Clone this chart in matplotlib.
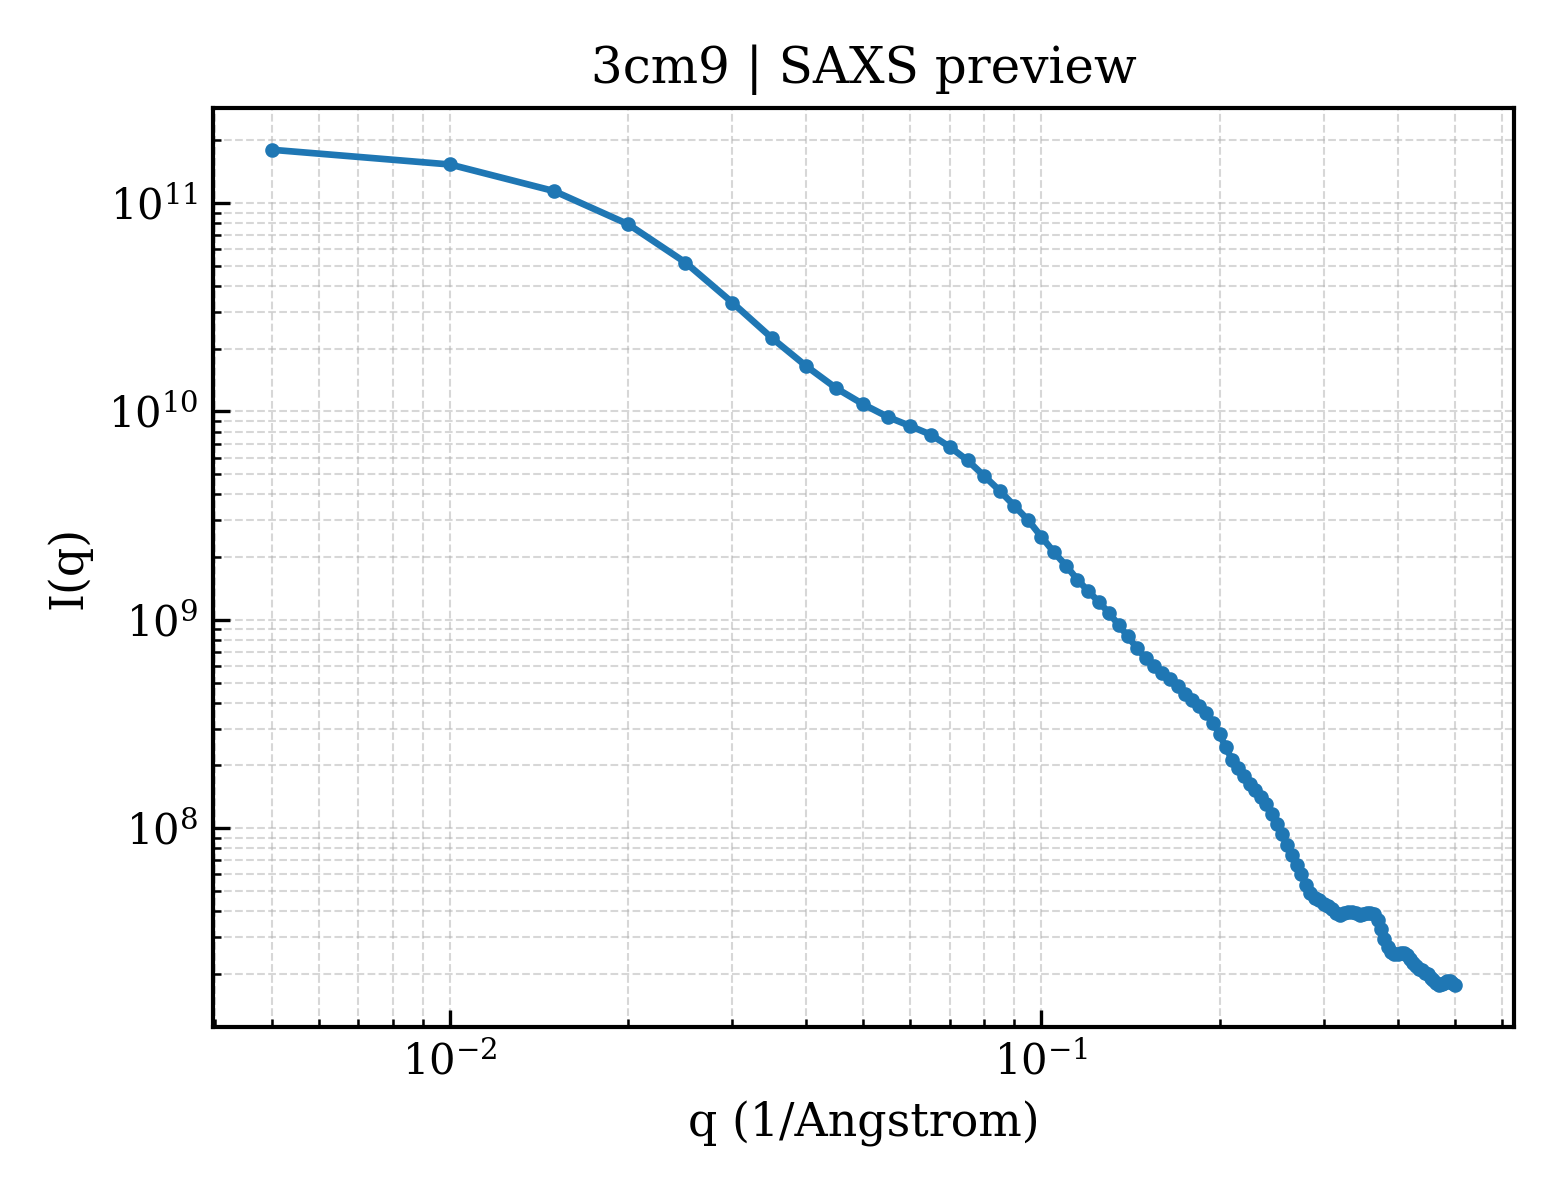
import matplotlib
matplotlib.use("Agg")
import matplotlib.pyplot as plt

# q grid (1/Angstrom)
q = [0.005, 0.010, 0.015, 0.020, 0.025, 0.030, 0.035, 0.040, 0.045, 0.050,
     0.055, 0.060, 0.065, 0.070, 0.075, 0.080, 0.085, 0.090, 0.095, 0.100,
     0.105, 0.110, 0.115, 0.120, 0.125, 0.130, 0.135, 0.140, 0.145, 0.150,
     0.155, 0.160, 0.165, 0.170, 0.175, 0.180, 0.185, 0.190, 0.195, 0.200,
     0.205, 0.210, 0.215, 0.220, 0.225, 0.230, 0.235, 0.240, 0.245, 0.250,
     0.255, 0.260, 0.265, 0.270, 0.275, 0.280, 0.285, 0.290, 0.295, 0.300,
     0.305, 0.310, 0.315, 0.320, 0.325, 0.330, 0.335, 0.340, 0.345, 0.350,
     0.355, 0.360, 0.365, 0.370, 0.375, 0.380, 0.385, 0.390, 0.395, 0.400,
     0.405, 0.410, 0.415, 0.420, 0.425, 0.430, 0.435, 0.440, 0.445, 0.450,
     0.455, 0.460, 0.465, 0.470, 0.475, 0.480, 0.485, 0.490, 0.495, 0.500]

# intensity
intensity = [1.80e11, 1.53e11, 1.14e11, 7.91e10, 5.18e10, 3.33e10, 2.25e10, 1.65e10, 1.29e10, 1.08e10,
             9.40e9, 8.50e9, 7.73e9, 6.75e9, 5.82e9, 4.90e9, 4.16e9, 3.52e9, 3.00e9, 2.50e9,
             2.11e9, 1.82e9, 1.56e9, 1.37e9, 1.22e9, 1.08e9, 9.46e8, 8.32e8, 7.31e8, 6.55e8,
             6.00e8, 5.57e8, 5.21e8, 4.81e8, 4.42e8, 4.10e8, 3.86e8, 3.56e8, 3.20e8, 2.83e8,
             2.44e8, 2.13e8, 1.95e8, 1.78e8, 1.63e8, 1.52e8, 1.41e8, 1.30e8, 1.17e8, 1.05e8,
             9.37e7, 8.33e7, 7.45e7, 6.67e7, 6.03e7, 5.35e7, 4.90e7, 4.63e7, 4.50e7, 4.35e7,
             4.24e7, 4.08e7, 3.92e7, 3.83e7, 3.90e7, 3.95e7, 3.98e7, 3.92e7, 3.83e7, 3.88e7,
             3.92e7, 3.92e7, 3.86e7, 3.63e7, 3.29e7, 2.93e7, 2.69e7, 2.56e7, 2.49e7, 2.49e7,
             2.53e7, 2.52e7, 2.45e7, 2.35e7, 2.26e7, 2.18e7, 2.12e7, 2.08e7, 2.03e7, 1.99e7,
             1.92e7, 1.86e7, 1.81e7, 1.77e7, 1.79e7, 1.81e7, 1.84e7, 1.84e7, 1.81e7, 1.76e7]

plt.rcParams['font.family'] = 'serif'
plt.rcParams['font.serif'] = ['DejaVu Serif']

fig, ax = plt.subplots(figsize=(5.2, 4), dpi=300)
fig.subplots_adjust(left=0.1365, right=0.9705, top=0.91, bottom=0.144)

ax.plot(q, intensity, marker='o', markersize=2.5, linewidth=1.6, color='#1f77b4')

ax.set_xscale('log')
ax.set_yscale('log')

ax.set_xlabel('q (1/Angstrom)', fontsize=11)
ax.set_ylabel('I(q)', fontsize=11)
ax.set_title('3cm9 | SAXS preview', fontsize=12)

ax.grid(True, which='both', linestyle='--', linewidth=0.5, alpha=0.5)
ax.tick_params(which='both', direction='in', top=False, right=False, labelsize=10)
ax.tick_params(which='major', length=4, width=0.8)
ax.tick_params(which='minor', length=2, width=0.6)
for s in ax.spines.values():
    s.set_linewidth(1.0)

fig.savefig('out.png', dpi=300)
